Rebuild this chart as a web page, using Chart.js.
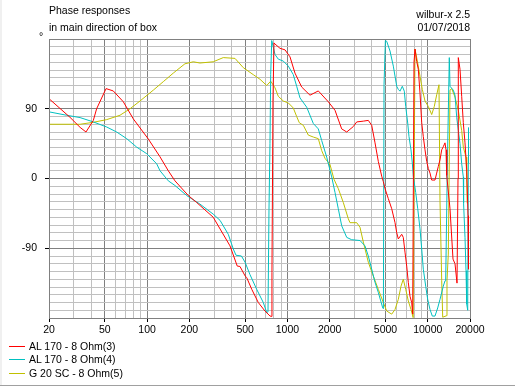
<!DOCTYPE html>
<html>
<head>
<meta charset="utf-8">
<script src="https://cdn.jsdelivr.net/npm/chart.js@4/dist/chart.umd.min.js"></script>
<style>
  html, body { margin: 0; padding: 0; background: #ffffff; }
  #wrap { position: relative; width: 515px; height: 386px; overflow: hidden; background: #ffffff; font-family: "Liberation Sans", Arial, sans-serif; font-size: 10.5px; color: #000; }
  #wrap canvas { position: absolute; left: 0; top: 0; }
  .txt { position: absolute; white-space: nowrap; line-height: 13px; }
  .leftstrip { position: absolute; left: 0; top: 0; width: 2px; height: 386px; background: #f0f0f0; }
  .bottomline { position: absolute; left: 0; top: 385px; width: 515px; height: 1px; background: #a0a0a0; }
</style>
</head>
<body>
<div id="wrap">
  <canvas id="c" width="515" height="386"></canvas>
  <div class="leftstrip"></div>
  <div class="bottomline"></div>
  <div class="txt" style="left:49px; top:4px;">Phase responses</div>
  <div class="txt" style="left:49px; top:21px;">in main direction of box</div>
  <div class="txt" style="right:45px; top:8px; text-align:right;">wilbur-x 2.5</div>
  <div class="txt" style="right:45px; top:21px; text-align:right;">01/07/2018</div>
  <div class="txt" style="left:39px; top:30px;">°</div>
  <div id="legend"></div>
</div>
<script>
// ---- data (frequency in Hz, phase in degrees) ----
const seriesNames = ["AL 170 - 8 Ohm(3)", "AL 170 - 8 Ohm(4)", "G 20 SC - 8 Ohm(5)"];
const seriesColors = ["#ff0000", "#00c0c0", "#c0c000"];

const xTickLabels = [20, 50, 100, 200, 500, 1000, 2000, 5000, 10000, 20000];
const xGridValues = [20,30,40,50,60,70,80,90,100,200,300,400,500,600,700,800,900,1000,2000,3000,4000,5000,6000,7000,8000,9000,10000,20000];
const yTickLabels = [90, 0, -90];

const redFreq  = [20, 28.2, 33.3, 36.7, 41.4, 43.7, 51, 57.4, 67.7, 79.7, 102, 123.6, 141.6, 158, 196.7, 225.7, 296, 390, 439, 459, 499, 513, 557, 620, 692, 751, 773, 776, 789, 802, 816, 885, 961, 1043, 1132, 1264, 1448, 1660, 1956, 2183, 2436, 2646, 2948, 3117, 3474, 3770, 3987, 4210, 4444, 4698, 4824, 4959, 5236, 5535, 5844, 6010, 6168, 6522, 6694, 6884, 7080, 7268, 7474, 7684, 7810, 7890, 7980, 8112, 8342, 8564, 8806, 9056, 9296, 9558, 9830, 10090, 10376, 10668, 11262, 11580, 11888, 12224, 12572, 12904, 13270, 13490, 13646, 14406, 15132, 15638, 16162, 16428, 16508, 16974, 17454, 17920, 18428, 18950, 19358, 19516];
const redPhase = [103, 79, 66, 60, 75, 90, 116, 113, 99, 77, 51, 28, 10, -3, -22, -31, -50, -87, -113, -113.5, -125.6, -128, -143, -160, -171, -177.4, -178, -121, 100, 175, 173.5, 168, 166, 157, 136, 118, 107.5, 113, 99, 88, 64, 60, 67, 73, 74, 75, 68.6, 46, 22, 3, -4, -13, -26, -39, -57, -70, -78, -72, -76, -95, -113, -134, -152, -160, -175, -20, 150, 167, 151, 141, 110, 72, 54, 37, 22, 13, 7, -2, -2, 7, 15.5, 24, 37, 41, 46, 37, 4, -39, -104, -110, -135, 0, 156, 141, 106, 72, 46, 11, -48, -117];

const cyanFreq  = [20, 26.7, 33.3, 41.4, 51.6, 60.7, 71.6, 84.3, 99.4, 117, 123.6, 141.6, 158, 191.6, 238, 296, 331, 379, 411.5, 430, 470, 499, 541, 604, 673, 712, 727, 739, 751, 760, 773, 816, 861, 935, 1015, 1101, 1164, 1229, 1372, 1529, 1660, 1755, 1905, 2068, 2183, 2304, 2436, 2646, 2871, 3290, 3572, 3770, 3987, 4210, 4444, 4622, 4777, 4830, 4879, 4990, 5100, 5383, 5683, 6010, 6168, 6342, 6586, 6806, 6964, 7198, 7352, 7596, 7760, 7890, 8206, 8482, 8806, 9056, 9296, 9670, 9992, 10376, 10774, 11262, 11772, 12224, 12904, 13270, 13424, 13800, 14240, 14406, 15208, 15638, 16080, 16508, 16974, 17454, 17920, 18000, 18428, 18732, 18950, 19262, 19454, 19516];
const cyanPhase = [86, 81.6, 78.6, 73, 66.4, 60, 51.4, 40.5, 32, 19, 10, -3, -9, -22, -33, -46, -54, -72, -91, -99, -100, -108, -124, -143, -160, -173, -172, -40, 45, 134, 178, 160, 154, 151.5, 145, 134, 119, 104, 92, 71, 64, 49, 27.6, 2, -18, -39, -61, -76, -79, -80, -87, -100, -117, -134, -147, -158, -167, -168, 121, 178, 177, 164.5, 145, 119, 115, 112.7, 119, 112.7, 93, 71.6, 54, 37, 20, 3, -18, -39, -65, -91, -117, -139, -156, -169, -177.5, -177.5, -167, -156, -139, -132, -132, 20, 156, 119, 114, 107.5, 79, 62, 45, 19, 2, -32, -76, -119, -162, -170, 20, 66];

const yellowFreq  = [20, 33.3, 41.4, 51.6, 64.1, 75.6, 89, 110.7, 130.5, 153.7, 186, 213.5, 238, 296, 349, 423, 485, 571, 638, 712, 760, 816, 861, 935, 1015, 1101, 1164, 1215, 1298, 1409, 1529, 1660, 1755, 1853, 2011, 2147, 2304, 2502, 2716, 2792, 3117, 3290, 3474, 3770, 4094, 4444, 4824, 5100, 5535, 5844, 6168, 6446, 6694, 6964, 7268, 7596, 7870, 8112, 8482, 8806, 9144, 9558, 10090, 10668, 11132, 11580, 12026, 12224, 12572, 12780, 13646, 13712, 14008, 14406, 14814, 15638, 16508, 17454, 17920, 18732, 18950, 19100];
const yellowPhase = [70, 70, 72.5, 76, 81.6, 90, 100, 114, 125, 136, 148, 150.6, 149, 150.6, 156, 155, 143, 134, 128, 120, 125.6, 117, 106, 100, 97.5, 91, 80, 72, 68.6, 56, 53.5, 51.4, 36, 26, 18, -1, -13, -31, -52, -57, -57, -63, -82, -108, -126, -143, -160, -171, -175, -169, -156, -139, -130, -143, -158, -169, -179.5, 167, 149, 132, 115, 100, 93, 82.5, 93, 108, 121, -28, -132, -179, -177, -132, -97.5, 114, 116, 105, 88, 62, 40.5, 27.6, 0, -32];

// ---- build chart ----
function pts(f, p) { return f.map((v, i) => ({ x: v, y: p[i] })); }
const seriesData = [pts(redFreq, redPhase), pts(cyanFreq, cyanPhase), pts(yellowFreq, yellowPhase)];

const datasets = seriesNames.map((n, i) => ({
  label: n,
  data: seriesData[i],
  borderColor: seriesColors[i],
  backgroundColor: seriesColors[i],
  borderWidth: 1,
  pointRadius: 0,
  showLine: true,
  tension: 0,
  fill: false
}));

const DARK = "#808080", LIGHT = "#c0c0c0";
const FONT = { family: "'Liberation Sans', Arial, sans-serif", size: 10.5 };
const legendRows = [340, 353, 367];

new Chart(document.getElementById("c"), {
  type: "scatter",
  data: { datasets },
  options: {
    responsive: false,
    animation: false,
    devicePixelRatio: 1,
    layout: { padding: { left: 0, top: 39, right: 45, bottom: 48 } },
    plugins: { legend: { display: false }, tooltip: { enabled: false }, title: { display: false } },
    scales: {
      x: {
        type: "logarithmic",
        min: 20, max: 20000,
        afterBuildTicks: s => { s.ticks = xGridValues.map(v => ({ value: v })); },
        afterFit: s => { s.height = 20; },
        ticks: {
          autoSkip: false, maxRotation: 0, minRotation: 0, padding: 2,
          color: "#000", font: FONT,
          callback: v => xTickLabels.includes(v) ? String(v) : ""
        },
        grid: {
          color: c => (c.tick && xTickLabels.includes(c.tick.value)) ? DARK : LIGHT,
          tickColor: c => (c.tick && xTickLabels.includes(c.tick.value)) ? "#000" : "rgba(0,0,0,0)",
          tickLength: 4,
          lineWidth: 1
        },
        border: { display: true, color: DARK, width: 1 }
      },
      y: {
        type: "linear",
        min: -180, max: 180,
        afterBuildTicks: s => { const t = []; for (let v = -180; v <= 180; v += 10) t.push({ value: v }); s.ticks = t; },
        afterFit: s => { s.width = 49; },
        ticks: {
          autoSkip: false, padding: 8, color: "#000", font: FONT,
          callback: v => yTickLabels.includes(v) ? String(v) : ""
        },
        grid: {
          color: c => (c.tick && (c.tick.value % 90 === 0)) ? DARK : LIGHT,
          tickColor: c => (c.tick && yTickLabels.includes(c.tick.value)) ? "#000" : "rgba(0,0,0,0)",
          tickLength: 4,
          lineWidth: 1
        },
        border: { display: true, color: DARK, width: 1 }
      }
    }
  },
  plugins: [{
    id: "frameAndSwatches",
    afterDraw(chart) {
      const a = chart.chartArea, ctx = chart.ctx;
      ctx.save();
      ctx.strokeStyle = DARK; ctx.lineWidth = 1;
      ctx.strokeRect(Math.round(a.left) + 0.5, Math.round(a.top) + 0.5, Math.round(a.right - a.left), Math.round(a.bottom - a.top));
      chart.data.datasets.forEach((d, i) => {
        ctx.strokeStyle = d.borderColor;
        ctx.beginPath();
        ctx.moveTo(9, legendRows[i] + 6.5);
        ctx.lineTo(25, legendRows[i] + 6.5);
        ctx.stroke();
      });
      ctx.restore();
    }
  }]
});

// legend text (HTML, built from the series arrays)
const lg = document.getElementById("legend");
seriesNames.forEach((n, i) => {
  const t = document.createElement("div");
  t.className = "txt";
  t.style.left = "29px";
  t.style.top = legendRows[i] + "px";
  t.textContent = n;
  lg.appendChild(t);
});
</script>
</body>
</html>
